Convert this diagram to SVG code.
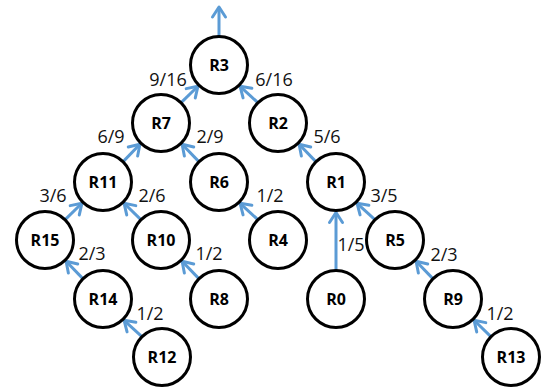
<svg xmlns="http://www.w3.org/2000/svg" width="542" height="391" viewBox="0 0 542 391">
<defs>
<marker id="ah" markerUnits="userSpaceOnUse" markerWidth="20" markerHeight="20" refX="0" refY="0" viewBox="-12 -10 14 20" orient="auto">
<path d="M-10,-6.5 L0,0 L-10,6.5" fill="none" stroke="#5B9BD5" stroke-width="3" stroke-linecap="round" stroke-linejoin="round"/>
</marker>
<style>
.n circle{fill:#fff;stroke:#000;stroke-width:3}
.n text{font-family:"Open Sans","Liberation Sans",sans-serif;font-weight:bold;font-size:16px;text-anchor:middle;fill:#000}
.e line{stroke:#5B9BD5;stroke-width:3;marker-end:url(#ah)}
.l text{font-family:"Open Sans","Liberation Sans",sans-serif;font-size:18px;text-anchor:middle;fill:#111}
</style>
</defs>
<g class="e" id="connectors">
<line x1="181.4" y1="102.4" x2="197.9" y2="86.3"/>
<line x1="257.6" y1="102.4" x2="240.1" y2="86.3"/>
<line x1="123.4" y1="161.4" x2="139.9" y2="144.3"/>
<line x1="198.6" y1="161.4" x2="182.1" y2="144.3"/>
<line x1="315.6" y1="161.4" x2="299.1" y2="144.3"/>
<line x1="65.4" y1="219.4" x2="81.9" y2="203.3"/>
<line x1="140.6" y1="219.4" x2="124.1" y2="203.3"/>
<line x1="257.6" y1="219.4" x2="240.1" y2="203.3"/>
<line x1="374.6" y1="219.4" x2="357.1" y2="203.3"/>
<line x1="336" y1="270" x2="336" y2="212.5"/>
<line x1="82.6" y1="278.4" x2="66.1" y2="261.3"/>
<line x1="198.6" y1="278.4" x2="182.1" y2="261.3"/>
<line x1="432.6" y1="278.4" x2="416.1" y2="261.3"/>
<line x1="141.6" y1="336.4" x2="124.1" y2="320.3"/>
<line x1="490.6" y1="336.4" x2="474.1" y2="320.3"/>
<line x1="219" y1="36" x2="219" y2="7"/>
</g>
<g class="l" id="labels">
<text x="168" y="86">9/16</text>
<text x="274" y="86">6/16</text>
<text x="111" y="143">6/9</text>
<text x="210" y="143">2/9</text>
<text x="327" y="143">5/6</text>
<text x="53" y="202">3/6</text>
<text x="152" y="202">2/6</text>
<text x="270" y="202">1/2</text>
<text x="384" y="202">3/5</text>
<text x="92" y="260">2/3</text>
<text x="209" y="260">1/2</text>
<text x="351" y="251">1/5</text>
<text x="444" y="261">2/3</text>
<text x="150" y="320">1/2</text>
<text x="500" y="320">1/2</text>
</g>
<g class="n" id="R3"><circle cx="219" cy="65" r="28.5"/><text x="219" y="71">R3</text></g>
<g class="n" id="R7"><circle cx="161" cy="123" r="28.5"/><text x="161" y="129">R7</text></g>
<g class="n" id="R2"><circle cx="278" cy="123" r="28.5"/><text x="278" y="129">R2</text></g>
<g class="n" id="R11"><circle cx="103" cy="182" r="28.5"/><text x="103" y="188">R11</text></g>
<g class="n" id="R6"><circle cx="219" cy="182" r="28.5"/><text x="219" y="188">R6</text></g>
<g class="n" id="R1"><circle cx="336" cy="182" r="28.5"/><text x="336" y="188">R1</text></g>
<g class="n" id="R15"><circle cx="45" cy="240" r="28.5"/><text x="45" y="246">R15</text></g>
<g class="n" id="R10"><circle cx="161" cy="240" r="28.5"/><text x="161" y="246">R10</text></g>
<g class="n" id="R4"><circle cx="278" cy="240" r="28.5"/><text x="278" y="246">R4</text></g>
<g class="n" id="R5"><circle cx="395" cy="240" r="28.5"/><text x="395" y="246">R5</text></g>
<g class="n" id="R14"><circle cx="103" cy="299" r="28.5"/><text x="103" y="305">R14</text></g>
<g class="n" id="R8"><circle cx="219" cy="299" r="28.5"/><text x="219" y="305">R8</text></g>
<g class="n" id="R0"><circle cx="336" cy="299" r="28.5"/><text x="336" y="305">R0</text></g>
<g class="n" id="R9"><circle cx="453" cy="299" r="28.5"/><text x="453" y="305">R9</text></g>
<g class="n" id="R12"><circle cx="162" cy="357" r="28.5"/><text x="162" y="363">R12</text></g>
<g class="n" id="R13"><circle cx="511" cy="357" r="28.5"/><text x="511" y="363">R13</text></g>
</svg>
